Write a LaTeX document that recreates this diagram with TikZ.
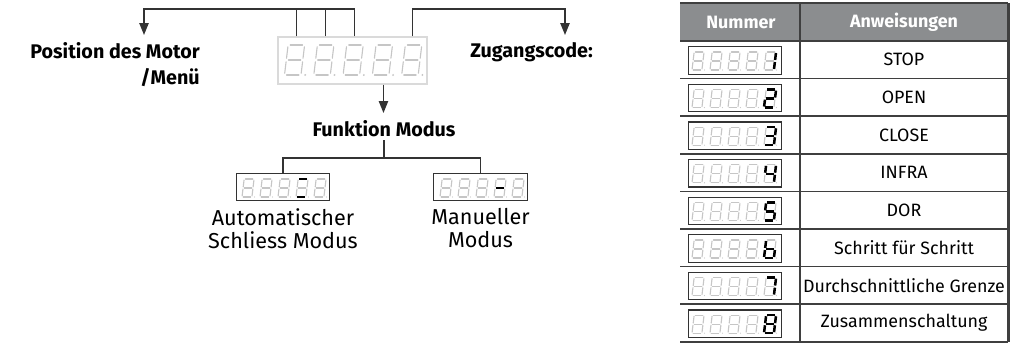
\documentclass[tikz,border=0pt]{standalone}
\usepackage{fontspec}
\setmainfont{Fira Sans}
\usepackage{tikz}
\usetikzlibrary{arrows.meta,calc,positioning}
\definecolor{LineDark}{HTML}{333333}
\definecolor{GridDark}{HTML}{3F3F3F}
\definecolor{HeadGray}{HTML}{8B8D8F}
\definecolor{SegGray}{HTML}{C6C6C6}
\definecolor{FrameGray}{HTML}{DADADA}

% seven segment pieces, unit digit height
\tikzset{
  segoff/.style={draw=SegGray,line width=0.85pt,line cap=round},
  segon/.style={draw=black,line width=1.9pt},
  sa/.style={insert path={(0.07,1)--(0.48,1)}},
  sb/.style={insert path={(0.55,0.94)--(0.55,0.56)}},
  sc/.style={insert path={(0.55,0.44)--(0.55,0.06)}},
  sd/.style={insert path={(0.07,0)--(0.48,0)}},
  se/.style={insert path={(0,0.44)--(0,0.06)}},
  sf/.style={insert path={(0,0.94)--(0,0.56)}},
  sg/.style={insert path={(0.07,0.5)--(0.48,0.5)}},
  snone/.style={}
}
\newcommand{\segdigit}[4]{%
  \begin{scope}[shift={(#1,#2)},x=#3*0.75pt,y=#3*0.75pt,xslant=0.12]
    \foreach \s in {a,b,c,d,e,f,g} \path[segoff,s\s];
    \fill[SegGray] (0.69,0) circle (0.035);
    \foreach \s in #4 \path[segon,s\s];
  \end{scope}}

\begin{document}
\begin{tikzpicture}[x=0.75pt,y=-0.75pt,
    link/.style={line width=1.1pt,draw=LineDark},
    flow/.style={link,-{Triangle[width=7pt,length=9pt]}},
    lbl/.style={font=\bfseries\fontsize{14.8}{19.5}\selectfont,inner sep=0pt},
    sub/.style={font=\fontsize{16.2}{17.5}\selectfont,align=center,inner sep=0pt},
    mainbox/.style={draw=FrameGray,line width=0.8pt,minimum width=111.75pt,
      minimum height=35.25pt,inner sep=0pt},
    smallbox/.style={draw=LineDark,line width=0.9pt,minimum width=70pt,
      minimum height=20.5pt,inner sep=0pt},
    grid/.style={draw=GridDark,line width=1.1pt},
    hdr/.style={font=\bfseries\fontsize{13.4}{15}\selectfont,text=white},
    cell/.style={font=\fontsize{13.4}{15}\selectfont}
  ]
  \useasboundingbox (0,0) rectangle (1022,343);

  % main display and its labels
  \node[mainbox] (maindisp) at (352.5,60.5) {};
  \foreach \k in {0,...,4}
    \segdigit{284.5+29.3*\k}{75}{30}{{none}};
  \node[lbl,anchor=north east,align=right] (posmotor) at (200,42)
    {Position des Motor\\/Menü};
  \node[lbl,anchor=north west] (zugang) at (470,42) {Zugangscode:};

  \coordinate (t1) at ($(maindisp.north west)+(19,0)$);
  \coordinate (t2) at ($(maindisp.north west)+(48,0)$);
  \coordinate (t3) at ($(maindisp.north west)+(77,0)$);
  \coordinate (t4) at ($(maindisp.north west)+(135,0)$);
  \coordinate (lefttip) at (144,35);
  \coordinate (righttip) at (565,35);
  \draw[flow] (t3) |- (lefttip |- 0,9) -- (lefttip);
  \draw[link] (t1) -- (t1 |- 0,9);
  \draw[link] (t2) -- (t2 |- 0,9);
  \draw[flow] (t4) |- (righttip |- 0,9) -- (righttip);

  % function mode
  \node[lbl] (funk) at (384,129) {Funktion Modus};
  \coordinate (d1) at ($(maindisp.south west)+(106,0)$);
  \coordinate (funktip) at (d1 |- 0,113);
  \draw[flow] (d1) -- (funktip);
  \node[smallbox] (autodisp) at (283,187) {};
  \node[smallbox] (manudisp) at (480.5,187) {};
  \coordinate (split) at (384,158);
  \draw[link] (funk.south) ++(0,3) -- (split);
  \draw[link] (autodisp.north) |- (split) -| (manudisp.north);
  \foreach \k/\on in {0/{none},1/{none},2/{none},3/{a,d},4/{none}}
    \segdigit{242+18*\k}{197}{18}{\on};
  \foreach \k/\on in {0/{none},1/{none},2/{none},3/{g},4/{none}}
    \segdigit{440+18*\k}{197}{18}{\on};
  \node[sub,below=5pt of autodisp] (autolbl) {Automatischer\\Schliess Modus};
  \node[sub,below=5pt of manudisp] (manulbl) {Manueller\\Modus};

  % command table
  \fill[HeadGray] (680,3) rectangle (1008,41);
  \node[hdr] (hdrnum) at (741,22) {Nummer};
  \node[hdr] (hdrcmd) at (904,22) {Anweisungen};
  \foreach \txt/\seg [count=\r from 0] in {STOP/{b,c},OPEN/{a,b,g,e,d},
      CLOSE/{a,b,g,c,d},INFRA/{f,g,b,c},DOR/{a,f,g,c,d},
      Schritt für Schritt/{f,e,g,c,d},Durchschnittliche Grenze/{a,b,c},
      Zusammenschaltung/{a,b,c,d,e,f,g}}{
    \pgfmathsetmacro\rtop{41+37.6*\r}
    \node[smallbox] (num\r) at (735,\rtop+19.5) {};
    \foreach \k in {0,...,3}
      \segdigit{692+18*\k}{\rtop+29}{18}{{none}};
    \segdigit{764}{\rtop+29}{18}{\seg};
    \node[cell] (cmd\r) at (904,\rtop+18.8) {\txt};
    \draw[grid] (680,\rtop+37.6) -- (1008,\rtop+37.6);
  }
  \draw[grid] (680,3) -- (1008,3);
  \draw[grid] (680,41) -- (1008,41);
  \draw[grid] (800,3) -- (800,342);
  \draw[draw=GridDark,line width=2.2pt] (1008.5,3) -- (1008.5,342);
\end{tikzpicture}
\end{document}
